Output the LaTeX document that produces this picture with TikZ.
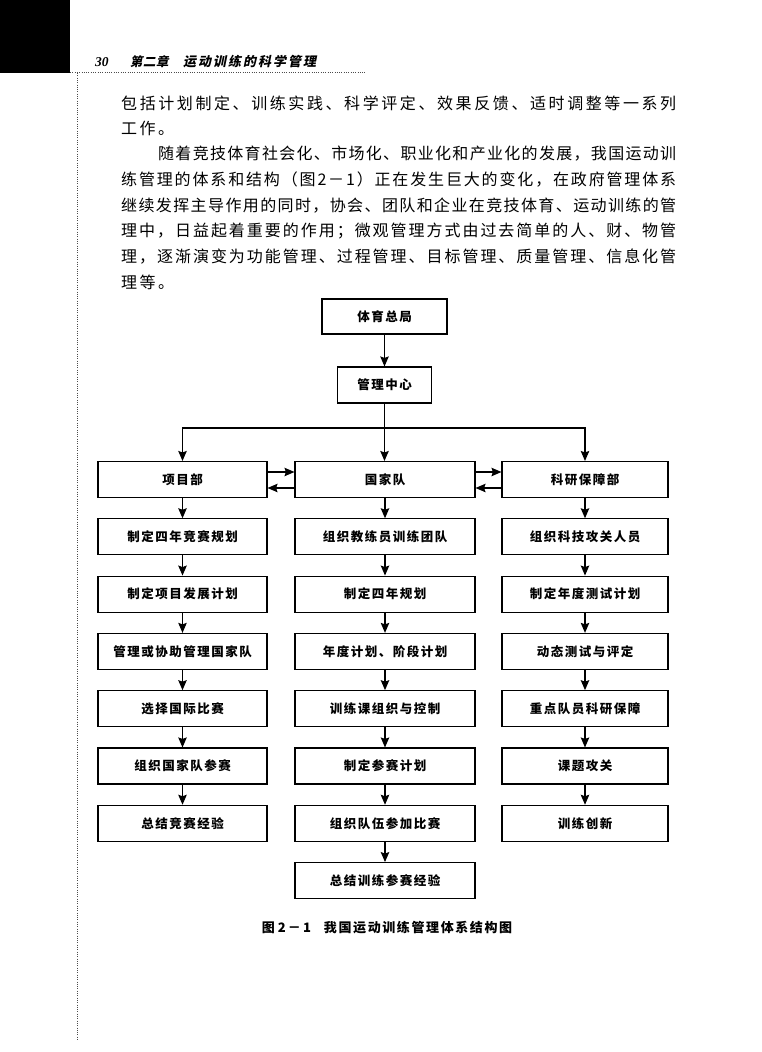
\documentclass[tikz,border=0pt]{standalone}
\usepackage{fontspec}
\setmainfont{Liberation Serif}
\newfontfamily\cjk{Noto Sans CJK SC}
\newfontfamily\cjkslant[FakeSlant=0.2]{Noto Sans CJK SC}
\usetikzlibrary{arrows.meta}
\ExplSyntaxOn
\cs_new_protected:Npn \my_spaced:nn #1#2 { \tl_map_inline:nn {#2} { ##1 \hskip #1 } \unskip }
\cs_generate_variant:Nn \my_spaced:nn { no }
\NewDocumentCommand \spaced { O{2pt} m } { \my_spaced:no {#1} {#2} }
\NewDocumentCommand \jline { m m }
  { \makebox [#1] [s] { \tl_map_inline:nn {#2} { ##1 \hskip 0pt~plus~1fil } \unskip } }
\ExplSyntaxOff
\begin{document}
\begin{tikzpicture}[x=1pt,y=-1pt,
  box/.style={draw, line width=1.1pt, minimum height=36pt, inner sep=0pt,
    font=\cjk\bfseries\fontsize{12.5}{14}\selectfont},
  arr/.style={line width=1.1pt, -{Stealth[length=10pt,width=8.5pt,inset=1.5pt]}},
  body/.style={anchor=west, inner sep=0pt, font=\cjk\fontsize{16}{18}\selectfont},
  dotline/.style={line width=0.7pt, black!70, dash pattern=on 0.7pt off 1.6pt},
  head/.style={anchor=west, inner sep=0pt}]
\useasboundingbox (0,0) rectangle (761,1052);
% page header
\fill[black] (0,0) rectangle (70,73);
\draw[dotline] (70,72) -- (365,72);
\draw[dotline] (77,73) -- (77,1040);
\node[head, font=\fontsize{13.5}{15}\selectfont\bfseries\itshape] (pg) at (95,62) {30};
\node[head, font=\cjkslant\bfseries\fontsize{12.5}{14}\selectfont] (ch) at (130,62) {\spaced[0.5pt]{第二章}};
\node[head, font=\cjkslant\bfseries\fontsize{13}{15}\selectfont] (tt) at (183,62) {\spaced[2pt]{运动训练的科学管理}};
% body text
\node[body] (l1) at (121,103) {\jline{555pt}{包括计划制定、训练实践、科学评定、效果反馈、适时调整等一系列}};
\node[body] (l2) at (121,128.6) {\spaced[2.5pt]{工作。}};
\node[body] (l3) at (158,154) {\jline{518pt}{随着竞技体育社会化、市场化、职业化和产业化的发展，我国运动训}};
\node[body] (l4) at (121,180) {\jline{555pt}{练管理的体系和结构（图2－1）正在发生巨大的变化，在政府管理体系}};
\node[body] (l5) at (121,205.5) {\jline{555pt}{继续发挥主导作用的同时，协会、团队和企业在竞技体育、运动训练的管}};
\node[body] (l6) at (121,231) {\jline{555pt}{理中，日益起着重要的作用；微观管理方式由过去简单的人、财、物管}};
\node[body] (l7) at (121,256.5) {\jline{555pt}{理，逐渐演变为功能管理、过程管理、目标管理、质量管理、信息化管}};
\node[body] (l8) at (121,282) {\spaced[2.5pt]{理等。}};
% diagram top
\node[box, minimum width=125pt, minimum height=35pt] (zj) at (384.5,316.5) {\spaced[1.5pt]{体育总局}};
\node[box, minimum width=94pt] (gl) at (384.5,385) {\spaced[1.5pt]{管理中心}};
% columns
\foreach \t [count=\i from 0] in {项目部,制定四年竞赛规划,制定项目发展计划,管理或协助管理国家队,选择国际比赛,组织国家队参赛,总结竞赛经验}
  \node[box, minimum width=169pt] (a\i) at (182.5,{479.5+57.3*\i}) {\spaced[1.5pt]{\t}};
\foreach \t [count=\i from 0] in {国家队,组织教练员训练团队,制定四年规划,年度计划、阶段计划,训练课组织与控制,制定参赛计划,组织队伍参加比赛,总结训练参赛经验}
  \node[box, minimum width=180pt] (b\i) at (385,{479.5+57.3*\i}) {\spaced[1.5pt]{\t}};
\foreach \t [count=\i from 0] in {科研保障部,组织科技攻关人员,制定年度测试计划,动态测试与评定,重点队员科研保障,课题攻关,训练创新}
  \node[box, minimum width=166pt] (c\i) at (585,{479.5+57.3*\i}) {\spaced[1.5pt]{\t}};
% connectors
\draw[arr] (zj) -- (gl);
\draw[arr] (gl.south) -- (gl.south |- b0.north);
\coordinate (jn) at (384.5,428);
\draw[arr] (jn) -| (a0.north);
\draw[arr] (jn) -| (c0.north);
\foreach \j/\i in {0/1,1/2,2/3,3/4,4/5,5/6} {
  \draw[arr] (a\j) -- (a\i);
  \draw[arr] (c\j) -- (c\i);
}
\foreach \j/\i in {0/1,1/2,2/3,3/4,4/5,5/6,6/7}
  \draw[arr] (b\j) -- (b\i);
\draw[arr] ([yshift=7.5pt]a0.east) -- ([yshift=7.5pt]b0.west);
\draw[arr] ([yshift=-8.5pt]b0.west) -- ([yshift=-8.5pt]a0.east);
\draw[arr] ([yshift=7.5pt]b0.east) -- ([yshift=7.5pt]c0.west);
\draw[arr] ([yshift=-8.5pt]c0.west) -- ([yshift=-8.5pt]b0.east);
% caption
\node[inner sep=0pt, font=\cjk\bfseries\fontsize{13}{15}\selectfont] (cap) at (387,928) {图\ 2\,－\,1\quad\spaced[1.6pt]{我国运动训练管理体系结构图}};
\end{tikzpicture}
\end{document}
